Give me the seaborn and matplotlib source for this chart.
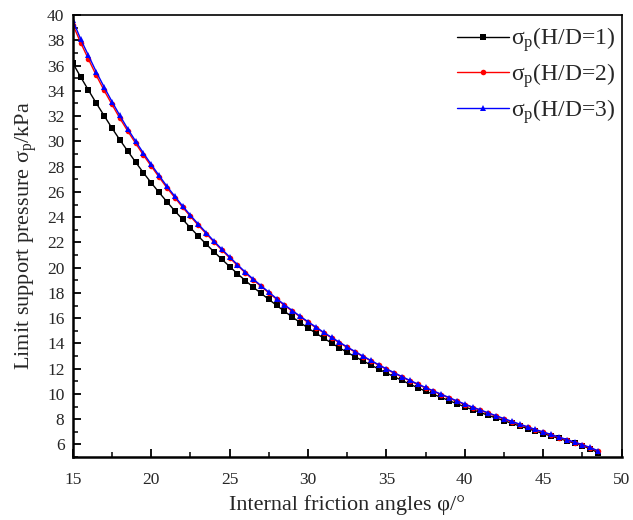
import numpy as np
import pandas as pd
import matplotlib
matplotlib.use('Agg')
import matplotlib.pyplot as plt
from matplotlib.ticker import MultipleLocator
import seaborn as sns

# friction angle grid (deg)
angles = [15.0, 15.5, 16.0, 16.5, 17.0, 17.5, 18.0, 18.5, 19.0, 19.5,
          20.0, 20.5, 21.0, 21.5, 22.0, 22.5, 23.0, 23.5, 24.0, 24.5,
          25.0, 25.5, 26.0, 26.5, 27.0, 27.5, 28.0, 28.5, 29.0, 29.5,
          30.0, 30.5, 31.0, 31.5, 32.0, 32.5, 33.0, 33.5, 34.0, 34.5,
          35.0, 35.5, 36.0, 36.5, 37.0, 37.5, 38.0, 38.5, 39.0, 39.5,
          40.0, 40.5, 41.0, 41.5, 42.0, 42.5, 43.0, 43.5, 44.0, 44.5,
          45.0, 45.5, 46.0, 46.5, 47.0, 47.5, 48.0, 48.5]

# limit support pressure (kPa) for H/D = 1
sp_hd1 = [36.2, 35.1, 34.05, 33.02, 32.03, 31.05, 30.12, 29.24, 28.37, 27.52,
          26.72, 25.96, 25.22, 24.5, 23.83, 23.16, 22.5, 21.87, 21.26, 20.67,
          20.09, 19.52, 18.98, 18.46, 17.97, 17.49, 17.01, 16.54, 16.09, 15.65,
          15.22, 14.81, 14.42, 14.03, 13.65, 13.29, 12.95, 12.62, 12.3, 11.97,
          11.66, 11.36, 11.07, 10.77, 10.49, 10.22, 9.97, 9.72, 9.47, 9.22,
          8.98, 8.75, 8.53, 8.3, 8.09, 7.88, 7.67, 7.46, 7.26, 7.06,
          6.86, 6.67, 6.48, 6.29, 6.1, 5.9, 5.65, 5.35]

# H/D = 2
sp_hd2 = [39.25, 37.82, 36.5, 35.22, 34.03, 32.92, 31.83, 30.82, 29.86, 28.92,
          28.04, 27.17, 26.33, 25.55, 24.79, 24.06, 23.36, 22.7, 22.03, 21.4,
          20.78, 20.18, 19.59, 19.04, 18.52, 18.0, 17.5, 17.01, 16.55, 16.1,
          15.67, 15.25, 14.84, 14.44, 14.06, 13.68, 13.32, 12.96, 12.62, 12.28,
          11.95, 11.64, 11.33, 11.03, 10.75, 10.47, 10.2, 9.94, 9.67, 9.41,
          9.16, 8.92, 8.69, 8.46, 8.23, 8.01, 7.79, 7.57, 7.36, 7.15,
          6.95, 6.75, 6.55, 6.35, 6.15, 5.94, 5.72, 5.46]

# H/D = 3
sp_hd3 = [39.6, 38.1, 36.8, 35.5, 34.3, 33.15, 32.05, 31.0, 30.03, 29.08,
          28.18, 27.3, 26.45, 25.66, 24.89, 24.15, 23.45, 22.78, 22.1, 21.47,
          20.85, 20.24, 19.65, 19.1, 18.58, 18.06, 17.55, 17.06, 16.6, 16.15,
          15.72, 15.3, 14.88, 14.48, 14.1, 13.72, 13.36, 13.0, 12.66, 12.32,
          11.99, 11.68, 11.37, 11.07, 10.79, 10.51, 10.24, 9.98, 9.71, 9.45,
          9.2, 8.96, 8.73, 8.5, 8.27, 8.05, 7.83, 7.61, 7.4, 7.19,
          6.99, 6.79, 6.59, 6.39, 6.19, 5.98, 5.76, 5.5]

labels = [r'$\sigma_{\rm p}$(H/D=1)', r'$\sigma_{\rm p}$(H/D=2)', r'$\sigma_{\rm p}$(H/D=3)']
colors = ['#000000', '#ff0000', '#0000ff']
markers = ['s', 'o', '^']

df = pd.concat([
    pd.DataFrame({'angle': angles, 'pressure': vals, 'series': lab})
    for vals, lab in zip([sp_hd1, sp_hd2, sp_hd3], labels)
])

sns.set_theme(style="ticks")
plt.rcParams['font.family'] = ['Liberation Serif', 'DejaVu Serif']
plt.rcParams['mathtext.fontset'] = 'custom'
plt.rcParams['mathtext.rm'] = 'Liberation Serif'
plt.rcParams['mathtext.it'] = 'Liberation Serif'
plt.rcParams['mathtext.cal'] = 'Liberation Serif'

fig = plt.figure(figsize=(6.33, 5.2), dpi=100)
ax = fig.add_axes([0.115, 0.121, 0.867, 0.85])

sns.lineplot(data=df, x='angle', y='pressure', hue='series', style='series',
             palette=colors, markers=markers, dashes=False, linewidth=1,
             markersize=4, markeredgewidth=0, ax=ax)

ax.set_xlim(15, 50)
ax.set_ylim(5, 40)
ax.xaxis.set_major_locator(MultipleLocator(5))
ax.xaxis.set_minor_locator(MultipleLocator(2.5))
ax.yaxis.set_major_locator(MultipleLocator(2))
ax.yaxis.set_minor_locator(MultipleLocator(1))
ax.set_yticks(np.arange(6, 41, 2))
ax.tick_params(axis='both', which='major', direction='in', length=6, width=1.3,
               labelsize=12.5, top=False, right=False, color='black')
ax.tick_params(axis='x', which='major', pad=11)
ax.tick_params(axis='y', which='major', pad=6)
ax.tick_params(axis='both', which='minor', direction='in', length=3.5, width=1.1,
               top=False, right=False, color='black')

ax.set_xlabel('Internal friction angles φ/°', fontsize=16, labelpad=5)
ax.set_ylabel(r'Limit support pressure σ$_{\rm p}$/kPa', fontsize=16, labelpad=6)

for side in ['top', 'right']:
    ax.spines[side].set_linewidth(1.2)
for side in ['left', 'bottom']:
    ax.spines[side].set_linewidth(1.8)
for sp in ax.spines.values():
    sp.set_color('black')

handles, labs = ax.get_legend_handles_labels()
ax.legend(handles, labs, loc='upper right', frameon=False, fontsize=17,
          handlelength=2.2, handletextpad=0.1, labelspacing=0.3,
          bbox_to_anchor=(1.027, 1.025))

fig.savefig('out.png', dpi=100)
